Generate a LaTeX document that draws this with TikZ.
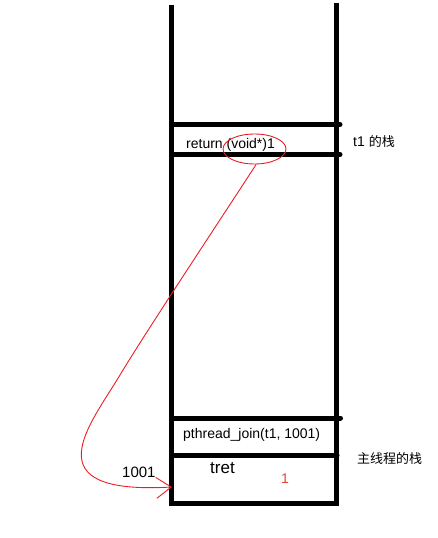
\documentclass[tikz,border=0pt]{standalone}
\usepackage{fontspec}
\setmainfont{Liberation Sans}
\newfontfamily\cjk{Noto Sans CJK SC}
\usetikzlibrary{shapes.geometric, arrows.meta}
\definecolor{markred}{RGB}{237,28,36}
\definecolor{valred}{RGB}{228,70,45}

\begin{document}
\begin{tikzpicture}[
		x=1pt, y=-1pt, % pixel-like units, y grows downwards
		wall/.style={
				line width=5pt
			},
		slot/.style={
				line width=5pt,
				line cap=round
			},
		label/.style={
				inner sep=0pt,
				anchor=west,
				font=\fontsize{14}{16}\selectfont
			},
		cjklabel/.style={
				label,
				font=\fontsize{13}{15}\selectfont\cjk
			},
		hilite/.style={
				draw=markred,
				line width=0.9pt,
				ellipse,
				minimum width=63pt,
				minimum height=30pt
			},
		ptr/.style={
				draw=markred,
				line width=0.9pt,
				-{Straight Barb[length=15pt,width=21pt]}
			}
	]
	\useasboundingbox (0,0) rectangle (438,538);

	% Stack
	\draw[wall] (171.5,5) -- (171.5,503) -- (336.5,503) -- (336.5,3);
	\draw[slot] (171.5,124.5) -- (340,124.5);
	\draw[slot] (171.5,154.5) -- (340,154.5);
	\draw[slot] (171.5,418) -- (340.5,418);
	\draw[slot] (171.5,455) -- (337,455);

	% Nodes
	\node[label] (ret) at (186,145) {return (void*)1};
	\node[hilite] (circ) at (254.5,149) {};
	\node[label] (t1stack) at (353,142) {t1 {\fontsize{13}{15}\selectfont\cjk 的栈}};
	\node[label] (join) at (183,435) {pthread\_join(t1, 1001)};
	\node[cjklabel] (mainstack) at (357,459) {主线程的栈};
	\node[label, font=\fontsize{15}{17}\selectfont] (addr) at (122,472) {1001};
	\node[label, font=\fontsize{17}{19}\selectfont] (tret) at (210,468) {tret};
	\node[label, anchor=center, text=valred] (val) at (285,479) {1};
	\coordinate (bend) at (120,375);
	\coordinate (tip) at (172,487);

	% Paths
	\draw[ptr] (circ.-84) .. controls (230,205) and (147,330) .. (bend)
		.. controls (90,425) and (30,495) .. (tip);
\end{tikzpicture}
\end{document}
